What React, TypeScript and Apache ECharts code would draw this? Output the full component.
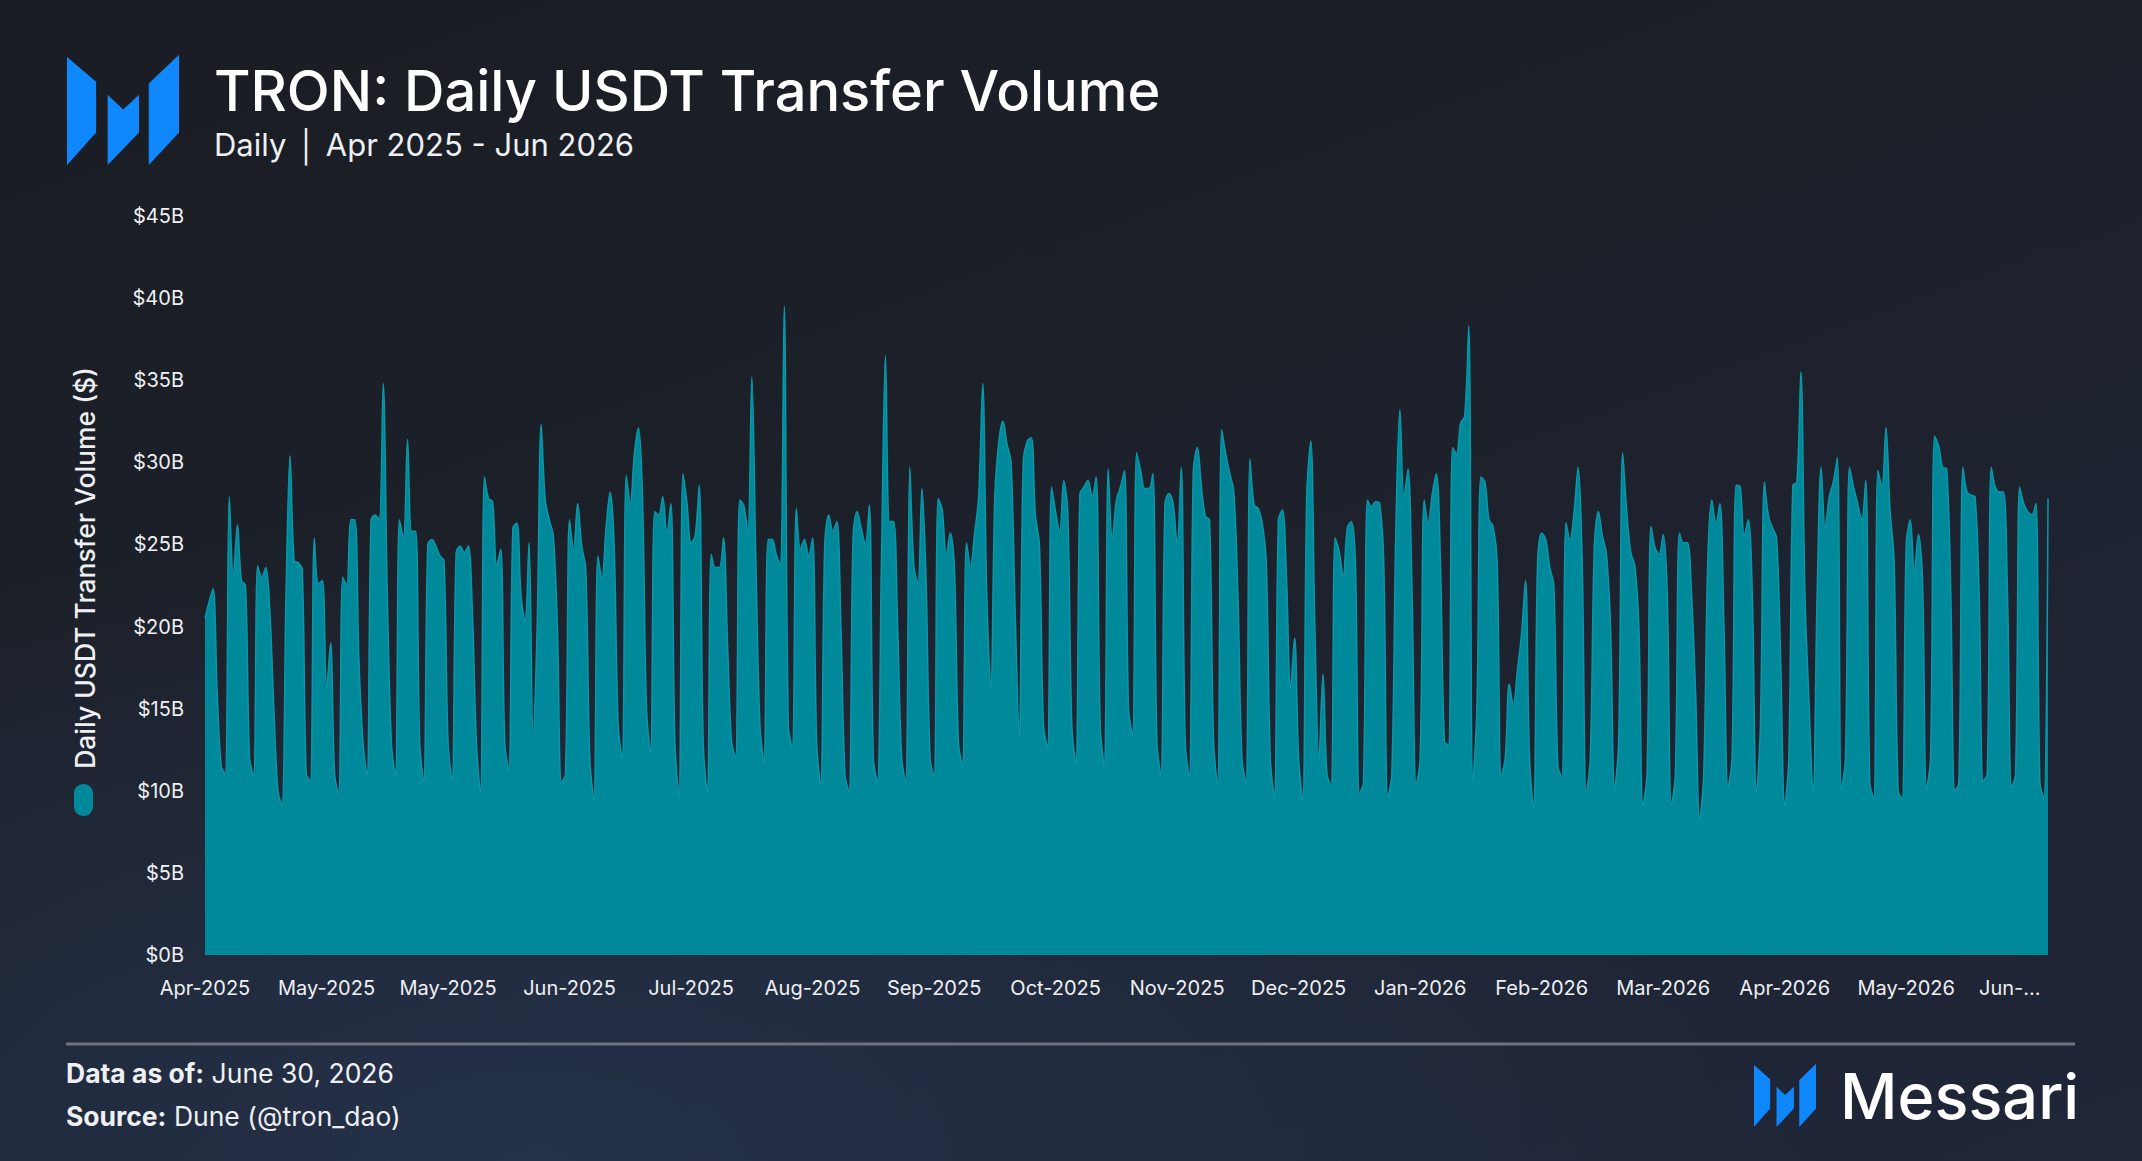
import React, { useEffect, useRef } from "react";
import * as echarts from "echarts";

// Daily USDT transfer volume on TRON, in $B
const q2_2025 = [
  20.5, 21.5, 22.3, 16, 11.5, 11.0, 27.9,
  23.0, 26.2, 22.8, 22.5, 12, 10.9, 23.7,
  23.0, 23.6, 21, 15, 10, 9.1, 22,
  30.4, 24, 23.9, 23.5, 11, 10.6, 25.4,
  22.6, 22.8, 16.2, 19, 11, 9.8, 23.0,
  22.5, 26.5, 26.5, 18, 13, 10.9, 26.5,
  26.8, 26.5, 34.8, 22, 13, 10.9, 26.5,
  25.4, 31.4, 25.8, 25.8, 13, 10.5, 25.0,
  25.3, 24.9, 24.3, 24, 13, 10.6, 24.5,
  24.9, 24.5, 24.9, 21, 13, 9.8, 29.1,
  27.8, 27.6, 23.7, 24.7, 13, 11.2, 26.0,
  26.3, 22, 20.3, 25.1, 13.4, 20, 32.3,
  27.7, 26.5, 25.5, 20, 10.5, 11, 26.5,
];
const q3_2025 = [
  24.7, 27.5, 24.9, 23.5, 12, 9.4, 24.3,
  22.9, 26.0, 28.2, 25, 14, 11.9, 29.2,
  27.5, 30.5, 32.1, 28, 15, 12.3, 27.0,
  26.8, 27.9, 25.7, 27.5, 13, 9.6, 29.3,
  27.5, 25.1, 25.5, 28.6, 13, 9.8, 24.4,
  23.6, 23.6, 25.4, 19, 13, 12.0, 27.7,
  27.4, 25.7, 35.2, 24, 14, 11.7, 25.3,
  25.3, 24.4, 23.7, 39.5, 14, 12.6, 27.2,
  24.7, 25.3, 24.3, 25.4, 13, 10.3, 25,
  26.8, 25.8, 26.4, 20, 11, 9.9, 25.5,
  27.0, 26, 25.0, 27.4, 12, 10.5, 24,
  36.5, 26.4, 26.4, 20, 12, 10.5, 29.7,
  23.7, 22.6, 28.4, 23, 12, 10.8, 27.8,
  27.1,
];
const q4_2025 = [
  24.3, 25.7, 23.7, 13, 11.5, 25.1, 23.7,
  25.7, 27.9, 34.8, 22, 16.3, 28, 31.3,
  32.5, 31.1, 30, 21, 13.2, 30.0, 31.3,
  31.5, 26.8, 25, 14, 12.6, 28.5, 27,
  25.7, 28.9, 27, 14, 11.6, 28.1, 28.5,
  28.9, 27.9, 29.1, 14, 11.5, 29.6, 25.3,
  27.7, 28.5, 29.5, 15, 13.4, 30.6, 29.5,
  28.4, 28.4, 29.3, 13, 10.9, 27.5, 28.1,
  27.5, 25.0, 29.7, 13, 10.8, 29.5, 30.9,
  28.5, 26.7, 26.5, 13, 10.3, 32.0, 30.5,
  29.3, 28.2, 22, 12, 10.5, 30.2, 27.4,
  27.2, 26.3, 24, 12, 9.6, 26.5, 27.1,
  23, 16.2, 19.3, 12, 9.4, 28, 31.3,
  20,
];
const q1_2026 = [
  11.9, 17.1, 11, 10.3, 25.4, 24.6, 23.0,
  26, 26.4, 24, 9.8, 10.5, 27.7, 27.3,
  27.6, 27.5, 24, 9.6, 11, 26, 33.2,
  27.9, 29.6, 22, 10.3, 12, 27.7, 26.3,
  28.1, 29.3, 24, 13, 12.8, 30.9, 30.5,
  32.4, 32.8, 38.3, 10.5, 15, 29.1, 28.8,
  26.5, 26.1, 24, 10.8, 12, 16.5, 15.2,
  17.3, 19.5, 22.8, 12, 8.9, 24, 25.7,
  25.3, 23.6, 22.5, 11.5, 10.8, 26.3, 25.3,
  27, 29.7, 24, 9.8, 12, 25, 27.0,
  25.5, 24.4, 20, 10.1, 13, 30.6, 27,
  24.5, 23.7, 20, 9.1, 11, 26.1, 24.8,
  24.4, 25.6, 22, 9.1, 11, 25.7,
];
const q2_2026 = [
  25.1, 25.1, 22, 16, 8.2, 11, 24,
  27.7, 26.3, 27.5, 20, 10.2, 12, 28.6,
  28.5, 25.5, 26.5, 22, 9.8, 14, 28.8,
  26.7, 26.0, 25.4, 18, 9.1, 12, 28.6,
  28.8, 35.5, 22, 15.4, 9.8, 22, 29.7,
  26.0, 27.9, 28.8, 30.3, 10.1, 12, 29.7,
  28.5, 27.5, 26.5, 28.9, 10.5, 9.5, 29.5,
  28.5, 32.1, 27.1, 24, 10, 9.5, 25,
  26.5, 23.3, 25.6, 23, 10.1, 12, 31.6,
  31.0, 29.7, 29.6, 22, 10, 10.5, 29.7,
  28.2, 28.0, 27.9, 22, 10.6, 11, 29.7,
  28.5, 28.2, 28.2, 22, 10.2, 11, 28.5,
  27.5, 27.0, 26.8, 27.5, 10.5, 9.5, 27.8,
];

const volumeB = [...q2_2025, ...q3_2025, ...q4_2025, ...q1_2026, ...q2_2026];

const START_DATE = Date.UTC(2025, 3, 1);
const MONTHS = ["Jan", "Feb", "Mar", "Apr", "May", "Jun", "Jul", "Aug", "Sep", "Oct", "Nov", "Dec"];
const dates = volumeB.map((_, i) => new Date(START_DATE + i * 86400000).toISOString().slice(0, 10));
const LABEL_EVERY = 30;
const LAST_LABEL_INDEX = 450;
const LAST_LABEL = "Jun-...";

const TITLE = "TRON: Daily USDT Transfer Volume";
const SUBTITLE = "Daily \u2502 Apr 2025 - Jun 2026";
const SERIES_NAME = "Daily USDT Transfer Volume ($)";

const AREA = "#00899a";
const LINE = "#0a97a7";
const LOGO_BLUE = "#1088fd";
const TEXT = "#eef0f3";

const logoPieces = [
  [[0, 0], [0.26, 0.23], [0.26, 0.7], [0, 1]],
  [[0.363, 0.35], [0.502, 0.485], [0.643, 0.35], [0.643, 0.7], [0.363, 1]],
  [[0.73, 0.245], [1, -0.02], [1, 0.7], [0.73, 1]],
];

function logo(x: number, y: number, w: number, h: number) {
  return {
    type: "group",
    x,
    y,
    children: logoPieces.map((pts) => ({
      type: "polygon",
      shape: { points: pts.map(([px, py]) => [px * w, py * h]) },
      style: { fill: LOGO_BLUE },
    })),
  };
}

function fmtLabel(value: string, index: number) {
  if (index >= LAST_LABEL_INDEX) return `{last|${LAST_LABEL}}`;
  const d = new Date(value + "T00:00:00Z");
  return `${MONTHS[d.getUTCMonth()]}-${d.getUTCFullYear()}`;
}

export default function App() {
  const ref = useRef<HTMLDivElement>(null);
  useEffect(() => {
    document.body.style.margin = "0";
    const chart = echarts.init(ref.current!, undefined, { renderer: "svg" });
    chart.setOption({
      animation: false,
      backgroundColor: "transparent",
      grid: { left: 205, right: 94, top: 216, bottom: 206 },
      xAxis: {
        type: "category",
        data: dates,
        boundaryGap: false,
        axisLine: { show: false },
        axisTick: { show: false },
        splitLine: { show: false },
        axisLabel: {
          interval: (index: number) => index % LABEL_EVERY === 0,
          color: TEXT,
          fontSize: 20,
          fontFamily: "Inter",
          margin: 23,
          formatter: fmtLabel,
          rich: {
            last: { color: TEXT, fontSize: 20, fontFamily: "Inter", padding: [0, 36, 0, 0] },
          },
        },
      },
      yAxis: {
        type: "value",
        min: 0,
        max: 45,
        interval: 5,
        axisLine: { show: false },
        axisTick: { show: false },
        splitLine: { show: false },
        axisLabel: {
          color: TEXT,
          fontSize: 20,
          fontFamily: "Inter",
          margin: 21,
          formatter: (v: number) => `$${v}B`,
        },
      },
      series: [
        {
          name: SERIES_NAME,
          type: "line",
          data: volumeB,
          smooth: 0.35,
          symbol: "none",
          lineStyle: { color: LINE, width: 1.5 },
          areaStyle: { color: AREA, opacity: 1 },
        },
      ],
      graphic: [
        logo(67, 57, 112, 108),
        {
          type: "text",
          x: 214,
          y: 91,
          style: { text: TITLE, fill: "#ffffff", fontSize: 56, fontWeight: 500, fontFamily: "Inter", verticalAlign: "middle" },
        },
        {
          type: "text",
          x: 214,
          y: 144,
          style: { text: SUBTITLE, fill: TEXT, fontSize: 31, fontFamily: "Inter", verticalAlign: "middle" },
        },
        {
          type: "text",
          x: 85,
          y: 568,
          rotation: Math.PI / 2,
          style: { text: SERIES_NAME, fill: TEXT, fontSize: 26.5, fontWeight: 500, fontFamily: "Inter", align: "center", verticalAlign: "middle" },
        },
        {
          type: "rect",
          shape: { x: 74, y: 784, width: 19, height: 32, r: 9 },
          style: { fill: AREA },
        },
        {
          type: "line",
          shape: { x1: 66, y1: 1044, x2: 2075, y2: 1044 },
          style: { stroke: "#6e737d", lineWidth: 3 },
        },
        {
          type: "text",
          x: 66,
          y: 1073,
          style: {
            text: "{b|Data as of:} June 30, 2026",
            fill: TEXT,
            fontSize: 26.5,
            fontFamily: "Inter",
            verticalAlign: "middle",
            rich: { b: { fontWeight: "bold", fontSize: 26.5, fontFamily: "Inter", fill: TEXT } },
          },
        },
        {
          type: "text",
          x: 66,
          y: 1116,
          style: {
            text: "{b|Source:} Dune (@tron_dao)",
            fill: TEXT,
            fontSize: 26.5,
            fontFamily: "Inter",
            verticalAlign: "middle",
            rich: { b: { fontWeight: "bold", fontSize: 26.5, fontFamily: "Inter", fill: TEXT } },
          },
        },
        logo(1754, 1065, 62, 62),
        {
          type: "text",
          x: 1840,
          y: 1096,
          style: { text: "Messari", fill: "#ffffff", fontSize: 63, fontWeight: 500, fontFamily: "Inter", verticalAlign: "middle" },
        },
      ],
    });
    return () => chart.dispose();
  }, []);
  return (
    <div
      style={{
        width: 2142,
        height: 1161,
        background:
          "radial-gradient(ellipse 60% 55% at 25% 100%, rgba(38,52,78,0.85) 0%, rgba(38,52,78,0) 100%), linear-gradient(160deg, #1a1d23 0%, #1c2029 40%, #1e2433 75%, #1f2638 100%)",
      }}
    >
      <div ref={ref} style={{ width: 2142, height: 1161 }} />
    </div>
  );
}
